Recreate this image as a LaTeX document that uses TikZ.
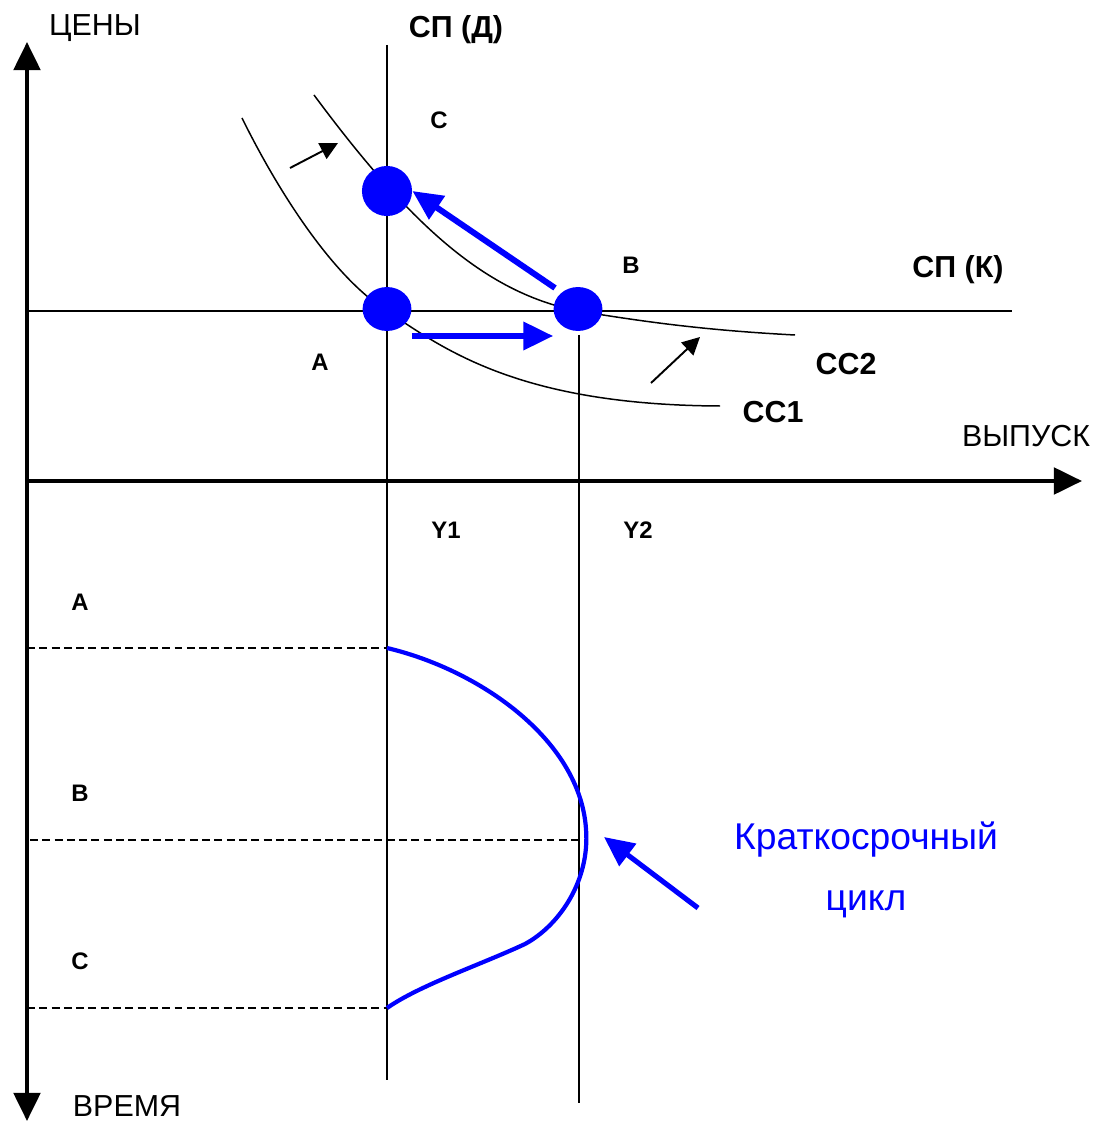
\documentclass[tikz,border=0pt]{standalone}
\usepackage{fontspec}
\setmainfont{Liberation Sans}
\usetikzlibrary{arrows.meta,shapes.geometric,calc}
\begin{document}
\begin{tikzpicture}[x=0.02cm,y=-0.02cm,
  thinline/.style={line width=0.85pt},
  axisline/.style={line width=2.4pt},
  dashline/.style={line width=0.6pt, dash pattern=on 4.5pt off 2.5pt},
  dot/.style={ellipse, fill=blue, inner sep=0pt, minimum width=27.8pt, minimum height=25pt},
  bluearrow/.style={draw=blue, line width=3.4pt, -{Triangle[length=17pt,width=15.5pt]}},
  smallarrow/.style={line width=1.1pt, -{Triangle[length=10pt,width=10pt]}},
  axlabel/.style={font=\fontsize{17.3pt}{20pt}\selectfont},
  biglabel/.style={font=\fontsize{17.3pt}{20pt}\selectfont\bfseries},
  ptlabel/.style={font=\fontsize{13.6pt}{16pt}\selectfont\bfseries},
  bluetext/.style={font=\fontsize{21.2pt}{24pt}\selectfont, text=blue}
]
\useasboundingbox (0,0) rectangle (1096,1121);

% axes
\coordinate (vbot) at (27,1121);
\coordinate (vtop) at (27,42);
\coordinate (orig) at (27,481);
\coordinate (hend) at (1082,481);
\draw[axisline, {Triangle[length=16pt,width=15pt]}-{Triangle[length=16pt,width=15pt]}] (vbot) -- (vtop);
\draw[axisline, -{Triangle[length=16pt,width=15pt]}] (orig) -- (hend);

% vertical lines
\coordinate (d1) at (387,45);
\coordinate (d2) at (387,1080);
\coordinate (y2a) at (579,335);
\coordinate (y2b) at (579,1103);
\draw[thinline] (d1) -- (d2);
\draw[thinline] (y2a) -- (y2b);

% horizontal SP(K) line
\coordinate (k1) at (27,311);
\coordinate (k2) at (1012,311);
\draw[thinline] (k1) -- (k2);

% CC1 and CC2 curves
\draw[thinline] (242,118) .. controls (275,185) and (330,275) .. (387,311)
                .. controls (445,350) and (520,405) .. (720,406);
\draw[thinline] (314,95) .. controls (414,230) and (488,293) .. (578,311)
                .. controls (640,321) and (700,330) .. (795,335);

% small black arrows
\coordinate (s1a) at (290,168);
\coordinate (s1b) at (338,143);
\coordinate (s2a) at (651,383);
\coordinate (s2b) at (700,337);
\draw[smallarrow] (s1a) -- (s1b);
\draw[smallarrow] (s2a) -- (s2b);

% points
\node[dot, minimum width=28.5pt, minimum height=28.5pt] (C) at (387,191) {};
\node[dot] (A) at (387,309) {};
\node[dot] (B) at (578,309) {};

% blue arrows
\draw[bluearrow] ([yshift=-0.54cm]A.east) -- ([yshift=-0.54cm]B.west);
\draw[bluearrow] ($(B)+(-23,-21)$) -- (C.east);

% dashed lines
\coordinate (ta) at (27,648);
\coordinate (tb) at (387,648);
\coordinate (ma) at (30,840);
\coordinate (mb) at (579,840);
\coordinate (ba) at (27,1008);
\coordinate (bb) at (387,1008);
\draw[dashline] (ta) -- (tb);
\draw[dashline] (ma) -- (mb);
\draw[dashline] (ba) -- (bb);

% short-run cycle curve
\draw[blue, line width=2.4pt] (387,648) .. controls (480,670) and (580,740) .. (586,829)
      .. controls (590,880) and (560,925) .. (525,944)
      .. controls (480,965) and (420,985) .. (387,1008);

% pointer arrow
\coordinate (pa) at (698,908);
\coordinate (pb) at (604,837);
\draw[draw=blue, line width=2.9pt, -{Triangle[length=17pt,width=15.5pt]}] (pa) -- (pb);

% labels
\node[axlabel] (lprice) at (95,28) {ЦЕНЫ};
\node[biglabel] (lspd) at (456,30) {СП (Д)};
\node[ptlabel] (lC) at (439,120) {C};
\node[ptlabel] (lB) at (631,265) {B};
\node[biglabel] (lspk) at (958,270) {СП (К)};
\node[ptlabel] (lA) at (320,362) {A};
\node[biglabel] (lcc2) at (846,364) {СС2};
\node[biglabel] (lcc1) at (773,412) {СС1};
\node[axlabel] (lout) at (1026,436) {ВЫПУСК};
\node[ptlabel] (ly1) at (446,530) {Y1};
\node[ptlabel] (ly2) at (638,530) {Y2};
\node[ptlabel] (tA) at (80,602) {A};
\node[ptlabel] (tB) at (80,793) {B};
\node[ptlabel] (tC) at (80,961) {C};
\node[axlabel] (ltime) at (127,1106) {ВРЕМЯ};
\node[bluetext] (lk1) at (866,840) {Краткосрочный};
\node[bluetext] (lk2) at (866,904) {цикл};
\end{tikzpicture}
\end{document}
